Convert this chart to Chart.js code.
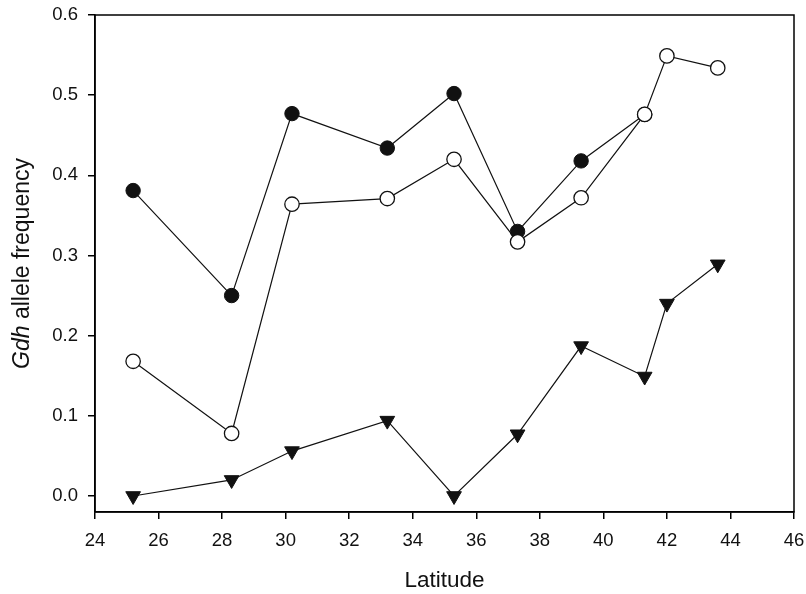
<!DOCTYPE html>
<html>
<head>
<meta charset="utf-8">
<script src="https://cdn.jsdelivr.net/npm/chart.js@4"></script>
<style>
  html, body { margin: 0; padding: 0; background: #fff; }
  #wrap { width: 806px; height: 594px; }
</style>
</head>
<body>
<div id="wrap"><canvas id="gdhChart" width="806" height="594"></canvas></div>
<script>
// latitudes of the sampled populations
const latitude = [25.2, 28.3, 30.2, 33.2, 35.3, 37.3, 39.3, 41.3, 42.0, 43.6];

// Gdh allele frequencies
const filledCircles = [0.381, 0.250, 0.477, 0.434, 0.502, 0.330, 0.418, 0.476];
const openCircles = [0.168, 0.078, 0.364, 0.371, 0.420, 0.317, 0.372, 0.476, 0.549, 0.534];
const triangles = [0.000, 0.020, 0.056, 0.094, 0.000, 0.077, 0.187, 0.149, 0.240, 0.289];

const yTicks = [0.0, 0.1, 0.2, 0.3, 0.4, 0.5, 0.6];

const FONT = "'Liberation Sans', Arial, sans-serif";

function toPoints(vals) {
    return vals.map((v, i) => ({ x: latitude[i], y: v }));
}

// box around the plot + y title with italic gene name
const framePlugin = {
    id: 'frame',
    afterDraw(chart) {
        const { ctx, chartArea: a } = chart;
        ctx.save();
        ctx.strokeStyle = '#000';
        ctx.lineWidth = 1.5;
        ctx.strokeRect(a.left, a.top, a.right - a.left, a.bottom - a.top);

        // y axis title
        const italic = 'italic 23px ' + FONT;
        const normal = '23px ' + FONT;
        ctx.translate(23, (a.top + a.bottom) / 2);
        ctx.rotate(-Math.PI / 2);
        ctx.fillStyle = '#111';
        ctx.textBaseline = 'middle';
        ctx.font = italic;
        const w1 = ctx.measureText('Gdh').width;
        ctx.font = normal;
        const w2 = ctx.measureText(' allele frequency').width;
        let x = -(w1 + w2) / 2;
        ctx.font = italic;
        ctx.fillText('Gdh', x, 0);
        ctx.font = normal;
        ctx.fillText(' allele frequency', x + w1, 0);
        ctx.restore();
    }
};

const ctx = document.getElementById('gdhChart').getContext('2d');

new Chart(ctx, {
    type: 'line',
    data: {
        datasets: [
            {
                label: 'open',
                data: toPoints(openCircles),
                borderColor: '#111',
                borderWidth: 1.2,
                pointStyle: 'circle',
                pointRadius: 7.2,
                pointBackgroundColor: '#fff',
                pointBorderColor: '#111',
                pointBorderWidth: 1.3
            },
            {
                label: 'filled',
                data: toPoints(filledCircles),
                borderColor: '#111',
                borderWidth: 1.2,
                pointStyle: 'circle',
                pointRadius: 7.2,
                pointBackgroundColor: '#111',
                pointBorderColor: '#111',
                pointBorderWidth: 1
            },
            {
                label: 'triangles',
                data: toPoints(triangles),
                borderColor: '#111',
                borderWidth: 1.2,
                pointStyle: 'triangle',
                pointRotation: 180,
                pointRadius: 8.5,
                pointBackgroundColor: '#111',
                pointBorderColor: '#111',
                pointBorderWidth: 1
            }
        ]
    },
    options: {
        responsive: false,
        animation: false,
        layout: { padding: { top: 15, right: 12, bottom: 0, left: 0 } },
        plugins: {
            legend: { display: false },
            tooltip: { enabled: false }
        },
        scales: {
            x: {
                type: 'linear',
                min: 24,
                max: 46,
                ticks: { stepSize: 2, color: '#111', font: { family: FONT, size: 18.5 }, padding: 11 },
                grid: { drawOnChartArea: false, drawTicks: true, tickLength: 7, color: '#000', lineWidth: 1.5 },
                border: { display: true, color: '#000', width: 1.5 },
                title: { display: true, text: 'Latitude', color: '#111', font: { family: FONT, size: 22.5 }, padding: { top: 4, bottom: 0 } },
                afterFit(scale) {
                    scale.height = 82;
                    scale.paddingLeft = 0;
                    scale.paddingRight = 0;
                }
            },
            y: {
                type: 'linear',
                min: -0.02,
                max: 0.6,
                afterBuildTicks(scale) { scale.ticks = yTicks.map(v => ({ value: v })); },
                ticks: { color: '#111', font: { family: FONT, size: 18.5 }, padding: 10, callback: v => v.toFixed(1) },
                grid: { drawOnChartArea: false, drawTicks: true, tickLength: 7, color: '#000', lineWidth: 1.5 },
                border: { display: true, color: '#000', width: 1.5 },
                afterFit(scale) {
                    scale.width = 95;
                    scale.paddingTop = 0;
                    scale.paddingBottom = 0;
                }
            }
        }
    },
    plugins: [framePlugin]
});
</script>
</body>
</html>
